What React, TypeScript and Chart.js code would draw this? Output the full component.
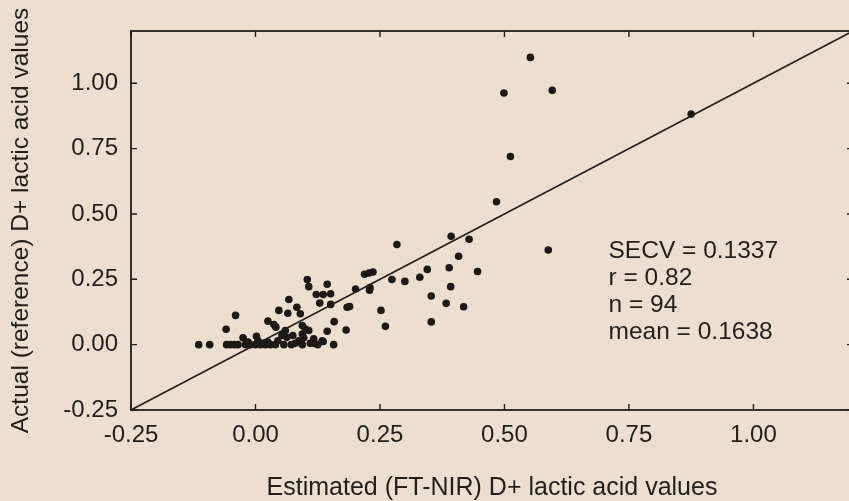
import React, { useEffect, useRef } from 'react';
import { Chart, registerables } from 'chart.js';

Chart.register(...registerables);

// Estimated (FT-NIR) values
const X_VALUES = [
  0.552, 0.499, 0.596, 0.512, 0.484, 0.875, 0.588, 0.393, 0.429, 0.284,
  0.408, 0.389, 0.446, 0.345, 0.330, 0.300, 0.274, 0.392, 0.353, 0.383,
  0.418, 0.353, 0.252, 0.261, 0.219, 0.228, 0.236, 0.230, 0.229, 0.201,
  0.184, 0.189, 0.182, 0.158, 0.144, 0.157, 0.136, 0.117, 0.104, 0.107,
  0.144, 0.122, 0.136, 0.151, 0.129, 0.151, -0.114, -0.092, -0.059, -0.040,
  -0.058, -0.050, -0.042, -0.035, -0.025, 0.002, 0.025, 0.037, 0.041, 0.047,
  0.067, 0.065, 0.083, 0.090, 0.060, 0.053, 0.063, 0.094, 0.100, 0.107,
  0.094, 0.087, 0.097, 0.117, 0.134, -0.020, -0.010, 0.000, 0.010, 0.020,
  0.030, 0.040, 0.057, 0.072, 0.094, 0.080, -0.015, 0.015, 0.110, 0.125,
  0.025, 0.005, 0.045, 0.075,
];
// Actual (reference) values
const Y_VALUES = [
  1.099, 0.963, 0.973, 0.720, 0.547, 0.882, 0.362, 0.415, 0.403, 0.383,
  0.338, 0.294, 0.280, 0.288, 0.258, 0.242, 0.249, 0.222, 0.186, 0.158,
  0.145, 0.087, 0.131, 0.070, 0.269, 0.274, 0.278, 0.218, 0.208, 0.213,
  0.143, 0.146, 0.056, 0.088, 0.051, 0.000, 0.012, 0.005, 0.249, 0.222,
  0.231, 0.192, 0.192, 0.195, 0.159, 0.154, 0.000, 0.000, 0.059, 0.112,
  0.000, 0.000, 0.000, 0.000, 0.026, 0.032, 0.090, 0.077, 0.067, 0.131,
  0.173, 0.120, 0.143, 0.118, 0.054, 0.035, 0.028, 0.073, 0.060, 0.054,
  0.041, 0.015, 0.026, 0.022, 0.015, 0.000, 0.000, 0.000, 0.000, 0.000,
  0.000, 0.000, 0.000, 0.000, 0.000, 0.005, 0.010, 0.005, 0.005, 0.000,
  0.010, 0.015, 0.015, 0.035,
];

const X_TICKS = [-0.25, 0, 0.25, 0.5, 0.75, 1.0];
const Y_TICKS = [-0.25, 0, 0.25, 0.5, 0.75, 1.0];
const X_RANGE = [-0.25, 1.2];
const Y_RANGE = [-0.25, 1.2];
const LINE_X = [-0.25, 1.2];
const LINE_Y = [-0.25, 1.2];
const STATS_LINES = ['SECV = 0.1337', 'r = 0.82', 'n = 94', 'mean = 0.1638'];
const STATS_POS = [0.709, 0.331];
const X_TITLE = 'Estimated (FT-NIR) D+ lactic acid values';
const Y_TITLE = 'Actual (reference) D+ lactic acid values';

const BG = '#ecdfd0';
const INK = '#221e1b';
const FONT = '"Liberation Sans", Arial, sans-serif';

const framePlugin = {
  id: 'frameAndStats',
  beforeDraw(chart: any) {
    const { ctx, width, height } = chart;
    ctx.save();
    ctx.fillStyle = BG;
    ctx.fillRect(0, 0, width, height);
    ctx.restore();
  },
  afterDatasetsDraw(chart: any) {
    const { ctx, chartArea } = chart;
    const { left, right, top, bottom } = chartArea;
    const xs = chart.scales.x;
    const ys = chart.scales.y;
    ctx.save();
    ctx.strokeStyle = INK;
    ctx.lineWidth = 1.8;
    ctx.strokeRect(left, top, right - left, bottom - top);
    ctx.lineWidth = 1.4;
    const tl = 6;
    ctx.beginPath();
    X_TICKS.forEach((v) => {
      const px = xs.getPixelForValue(v);
      ctx.moveTo(px, bottom);
      ctx.lineTo(px, bottom - tl);
      ctx.moveTo(px, top);
      ctx.lineTo(px, top + tl);
    });
    Y_TICKS.forEach((v) => {
      const py = ys.getPixelForValue(v);
      ctx.moveTo(left, py);
      ctx.lineTo(left + tl, py);
      ctx.moveTo(right, py);
      ctx.lineTo(right - tl, py);
    });
    ctx.stroke();

    ctx.fillStyle = INK;
    ctx.font = `24.5px ${FONT}`;
    ctx.textAlign = 'left';
    ctx.textBaseline = 'alphabetic';
    const x0 = xs.getPixelForValue(STATS_POS[0]);
    const y0 = ys.getPixelForValue(STATS_POS[1]);
    STATS_LINES.forEach((t, i) => {
      ctx.fillText(t, x0, y0 + i * 27);
    });
    ctx.restore();
  },
};

export default function App() {
  const ref = useRef<HTMLCanvasElement | null>(null);

  useEffect(() => {
    if (!ref.current) return;
    const points = X_VALUES.map((x, i) => ({ x, y: Y_VALUES[i] }));
    const line = LINE_X.map((x, i) => ({ x, y: LINE_Y[i] }));
    const chart = new Chart(ref.current, {
      type: 'scatter',
      data: {
        datasets: [
          {
            type: 'line',
            data: line,
            borderColor: INK,
            borderWidth: 1.6,
            pointRadius: 0,
            fill: false,
            showLine: true,
          } as any,
          {
            data: points,
            backgroundColor: '#1b1816',
            borderWidth: 0,
            pointRadius: 3.8,
          },
        ],
      },
      options: {
        animation: false,
        responsive: false,
        events: [],
        layout: { padding: { top: 31, right: 17, bottom: 0, left: 0 } },
        plugins: {
          legend: { display: false },
          tooltip: { enabled: false },
        },
        scales: {
          x: {
            type: 'linear',
            min: X_RANGE[0],
            max: X_RANGE[1],
            grid: { display: false, drawTicks: false },
            border: { display: false },
            afterBuildTicks: (scale: any) => {
              scale.ticks = X_TICKS.map((v) => ({ value: v }));
            },
            afterFit: (scale: any) => {
              scale.height = 91;
            },
            ticks: {
              padding: 11,
              color: INK,
              font: { family: FONT, size: 24 },
              maxRotation: 0,
              autoSkip: false,
              callback: (v: any) => Number(v).toFixed(2),
            },
            title: {
              display: true,
              text: X_TITLE,
              color: INK,
              font: { family: FONT, size: 25, lineHeight: 1.0 },
              padding: { top: 0, bottom: 0 },
            },
          },
          y: {
            type: 'linear',
            min: Y_RANGE[0],
            max: Y_RANGE[1],
            grid: { display: false, drawTicks: false },
            border: { display: false },
            afterBuildTicks: (scale: any) => {
              scale.ticks = Y_TICKS.map((v) => ({ value: v }));
            },
            afterFit: (scale: any) => {
              scale.width = 131;
            },
            ticks: {
              padding: 13,
              color: INK,
              font: { family: FONT, size: 24 },
              autoSkip: false,
              callback: (v: any) => Number(v).toFixed(2),
            },
            title: {
              display: true,
              text: Y_TITLE,
              color: INK,
              font: { family: FONT, size: 24.5, lineHeight: 1.2 },
              padding: { top: 6.6, bottom: 0 },
            },
          },
        },
      },
      plugins: [framePlugin],
    });
    return () => chart.destroy();
  }, []);

  return (
    <div
      style={{
        position: 'fixed',
        left: 0,
        top: 0,
        width: 849,
        height: 501,
        overflow: 'hidden',
        background: BG,
      }}
    >
      <canvas ref={ref} width={870} height={501} style={{ display: 'block' }} />
    </div>
  );
}
